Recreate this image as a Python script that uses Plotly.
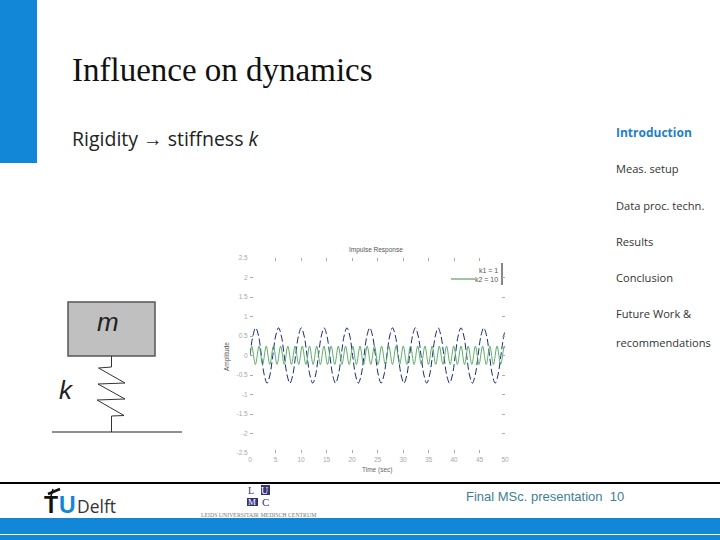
import plotly.graph_objects as go

# ---- data ----
title_text = "Influence on dynamics"
menu_items = ["Meas. setup", "Data proc. techn.", "Results", "Conclusion", "Future Work &", "recommendations"]
x_ticks = [0, 5, 10, 15, 20, 25, 30, 35, 40, 45, 50]
y_ticks = [2.5, 2, 1.5, 1, 0.5, 0, -0.5, -1, -1.5, -2, -2.5]
y_tick_labels = ["2.5", "2", "1.5", "1", "0.5", "0", "-0.5", "-1", "-1.5", "-2", "-2.5"]

k1_time = [0, 0.56, 1.12, 1.68, 2.24, 2.8, 3.35, 3.91, 4.47, 5.03, 5.59, 6.15, 6.71, 7.27, 7.83, 8.39,
           8.94, 9.5, 10.06, 10.62, 11.18, 11.74, 12.3, 12.86, 13.42, 13.98, 14.53, 15.09, 15.65, 16.21,
           16.77, 17.33, 17.89, 18.45, 19.01, 19.57, 20.12, 20.68, 21.24, 21.8, 22.36, 22.92, 23.48, 24.04,
           24.6, 25.16, 25.71, 26.27, 26.83, 27.39, 27.95, 28.51, 29.07, 29.63, 30.19, 30.75, 31.3, 31.86,
           32.42, 32.98, 33.54, 34.1, 34.66, 35.22, 35.78, 36.34, 36.89, 37.45, 38.01, 38.57, 39.13, 39.69,
           40.25, 40.81, 41.37, 41.93, 42.48, 43.04, 43.6, 44.16, 44.72, 45.28, 45.84, 46.4, 46.96, 47.52,
           48.07, 48.63, 49.19, 49.75, 50]
k1_resp = [0, .5, .71, .5, 0, -.5, -.71, -.5, 0, .5, .71, .5, 0, -.5, -.71, -.5,
           0, .5, .71, .5, 0, -.5, -.71, -.5, 0, .5, .71, .5, 0, -.5, -.71, -.5,
           0, .5, .71, .5, 0, -.5, -.71, -.5, 0, .5, .71, .5, 0, -.5, -.71, -.5,
           0, .5, .71, .5, 0, -.5, -.71, -.5, 0, .5, .71, .5, 0, -.5, -.71, -.5,
           0, .5, .71, .5, 0, -.5, -.71, -.5, 0, .5, .71, .5, 0, -.5, -.71, -.5,
           0, .5, .71, .5, 0, -.5, -.71, -.5, 0, .5, .64]

k2_time = [0, .35, 1.06, 1.77, 2.47, 3.18, 3.89, 4.6, 5.3, 6.01, 6.72, 7.42, 8.13, 8.84, 9.55, 10.25, 10.96,
           11.67, 12.37, 13.08, 13.79, 14.5, 15.2, 15.91, 16.62, 17.32, 18.03, 18.74, 19.45, 20.15, 20.86,
           21.57, 22.27, 22.98, 23.69, 24.4, 25.1, 25.81, 26.52, 27.22, 27.93, 28.64, 29.35, 30.05, 30.76,
           31.47, 32.17, 32.88, 33.59, 34.3, 35, 35.71, 36.42, 37.12, 37.83, 38.54, 39.25, 39.95, 40.66,
           41.37, 42.07, 42.78, 43.49, 44.2, 44.9, 45.61, 46.32, 47.02, 47.73, 48.44, 49.15, 49.85, 50]
k2_resp = [0, .24, -.23, .24, -.23, .24, -.23, .24, -.23, .24, -.23, .24, -.23, .24, -.23, .24, -.23,
           .24, -.23, .24, -.23, .24, -.23, .24, -.23, .24, -.23, .24, -.23, .24, -.23,
           .24, -.23, .24, -.23, .24, -.23, .24, -.23, .24, -.23, .24, -.23, .24, -.23,
           .24, -.23, .24, -.23, .24, -.23, .24, -.23, .24, -.23, .24, -.23, .24, -.23,
           .24, -.23, .24, -.23, .24, -.23, .24, -.23, .24, -.23, .24, -.23, .24, .18]

W, H = 720, 540
BLUE = "#1287d8"
GREY = "#a8a8a8"


def px(x):
    return x / W


def py(y):
    return 1 - y / H


fig = go.Figure()
fig.add_trace(go.Scatter(x=k1_time, y=k1_resp, mode="lines", name="k1 = 1", showlegend=False,
                         line=dict(color="#1b2a78", width=1, dash="7px,3px", shape="spline")))
fig.add_trace(go.Scatter(x=k2_time, y=k2_resp, mode="lines", name="k2 = 10", showlegend=False,
                         line=dict(color="#4aa65a", width=0.9, shape="spline")))

shapes = []


def rect(x0, y0, x1, y1, fill, line=None, lw=0):
    shapes.append(dict(type="rect", xref="paper", yref="paper", x0=px(x0), x1=px(x1), y0=py(y0), y1=py(y1),
                       fillcolor=fill, line=dict(color=line or fill, width=lw), layer="below"))


def seg(x0, y0, x1, y1, color="#222", lw=1):
    shapes.append(dict(type="line", xref="paper", yref="paper", x0=px(x0), x1=px(x1), y0=py(y0), y1=py(y1),
                       line=dict(color=color, width=lw), layer="below"))


rect(0, 0, 37, 163, BLUE)
rect(0, 482, 720, 484, "#000000")
rect(0, 518, 720, 534, BLUE)
rect(0, 535, 720, 540, BLUE)

# mass-spring sketch
rect(68, 302, 155, 356, "#c0c0c0", "#555555", 1.5)
spring = [(111.5, 356), (111.5, 367), (98.5, 368), (125, 383), (98, 384), (125, 399), (97, 400),
          (124, 415.5), (111.5, 416), (111.5, 432)]
for a, b in zip(spring, spring[1:]):
    seg(a[0], a[1], b[0], b[1], "#333333", 1)
seg(52, 432, 182, 432, "#222222", 1)

# legend line and bracket
seg(451, 279, 475, 279, "#3a8a4a", 1)
seg(502, 263, 502, 285, "#111111", 1)

# logo marks
seg(51, 496, 53, 489, "#111111", 1.5)
seg(48, 494, 60, 489, "#111111", 2.5)
rect(261, 485, 270, 495, "#33337a")
rect(247, 498, 258, 506, "#33337a")

ann = []


def text(x, y, s, size, color="#222222", family="Open Sans", anchor="left", angle=0):
    ann.append(dict(x=px(x), y=py(y), xref="paper", yref="paper", text=s, showarrow=False, xanchor=anchor,
                    yanchor="middle", textangle=angle, borderpad=0, borderwidth=0,
                    font=dict(size=size, color=color, family=family)))


text(72, 70, title_text, 33, "#111111", "Liberation Serif")
text(72, 138, "Rigidity → stiffness <i>k</i>", 19.5, "#222222", "Open Sans")
text(616, 133, "<b>Introduction</b>", 12, "#1f7fc4", "Open Sans")
for s, y in zip(menu_items, [169, 205, 241, 277, 313, 342]):
    text(616, y, s, 11.1, "#333333", "Open Sans")
text(466, 496, "Final MSc. presentation  10", 13, "#3f7f95", "Liberation Sans")
text(108, 322, "<i>m</i>", 26, "#222222", "Liberation Sans", "center")
text(66, 390, "<i>k</i>", 26, "#222222", "Liberation Sans", "center")
text(44, 505, "<b>T</b>", 23, "#111111", "Liberation Sans")
text(59, 505, "<b>U</b>", 23, BLUE, "Liberation Sans")
text(77, 506, "Delft", 17.5, "#333333", "Open Sans")
text(251, 490, "L", 10, "#33337a", "Liberation Serif", "center")
text(265, 490, "U", 10, "#ffffff", "Liberation Serif", "center")
text(252, 502, "M", 9, "#ffffff", "Liberation Serif", "center")
text(265, 502, "C", 11, "#33337a", "Liberation Serif", "center")
text(258, 515, "LEIDS UNIVERSITAIR MEDISCH CENTRUM", 5.8, "#777777", "Liberation Serif", "center")
text(376, 250, "Impulse Response", 6.5, "#555555", "Liberation Sans", "center")
text(377, 470, "Time (sec)", 6.5, "#666666", "Liberation Sans", "center")
text(227, 357, "Amplitude", 6.5, "#555555", "Liberation Sans", "center", -90)
text(498, 270, "k1 = 1", 7, "#555555", "Liberation Sans", "right")
text(498, 279, "k2 = 10", 7, "#555555", "Liberation Sans", "right")

axis_common = dict(showgrid=False, zeroline=False, ticks="inside", ticklen=3, tickwidth=1, tickcolor="#aaaaaa",
                   showline=True, linecolor="rgba(255,255,255,0)", mirror="ticks", automargin=False,
                   tickfont=dict(size=6.5, color=GREY, family="Liberation Sans"))

fig.update_layout(
    template=None,
    width=W, height=H, autosize=False, margin=dict(l=0, r=0, t=0, b=0, pad=0),
    paper_bgcolor="white", plot_bgcolor="rgba(0,0,0,0)",
    shapes=shapes, annotations=ann, showlegend=False,
    xaxis=dict(domain=[px(250), px(505)], range=[0, 50], tickvals=x_ticks, ticktext=[str(v) for v in x_ticks],
               **axis_common),
    yaxis=dict(domain=[py(453), py(258)], range=[-2.5, 2.5], tickvals=y_ticks, ticktext=y_tick_labels,
               **axis_common),
)
fig.write_html("out.html", config={"displayModeBar": False},
               post_script="document.body.style.margin='0';document.documentElement.style.overflow='hidden';")
